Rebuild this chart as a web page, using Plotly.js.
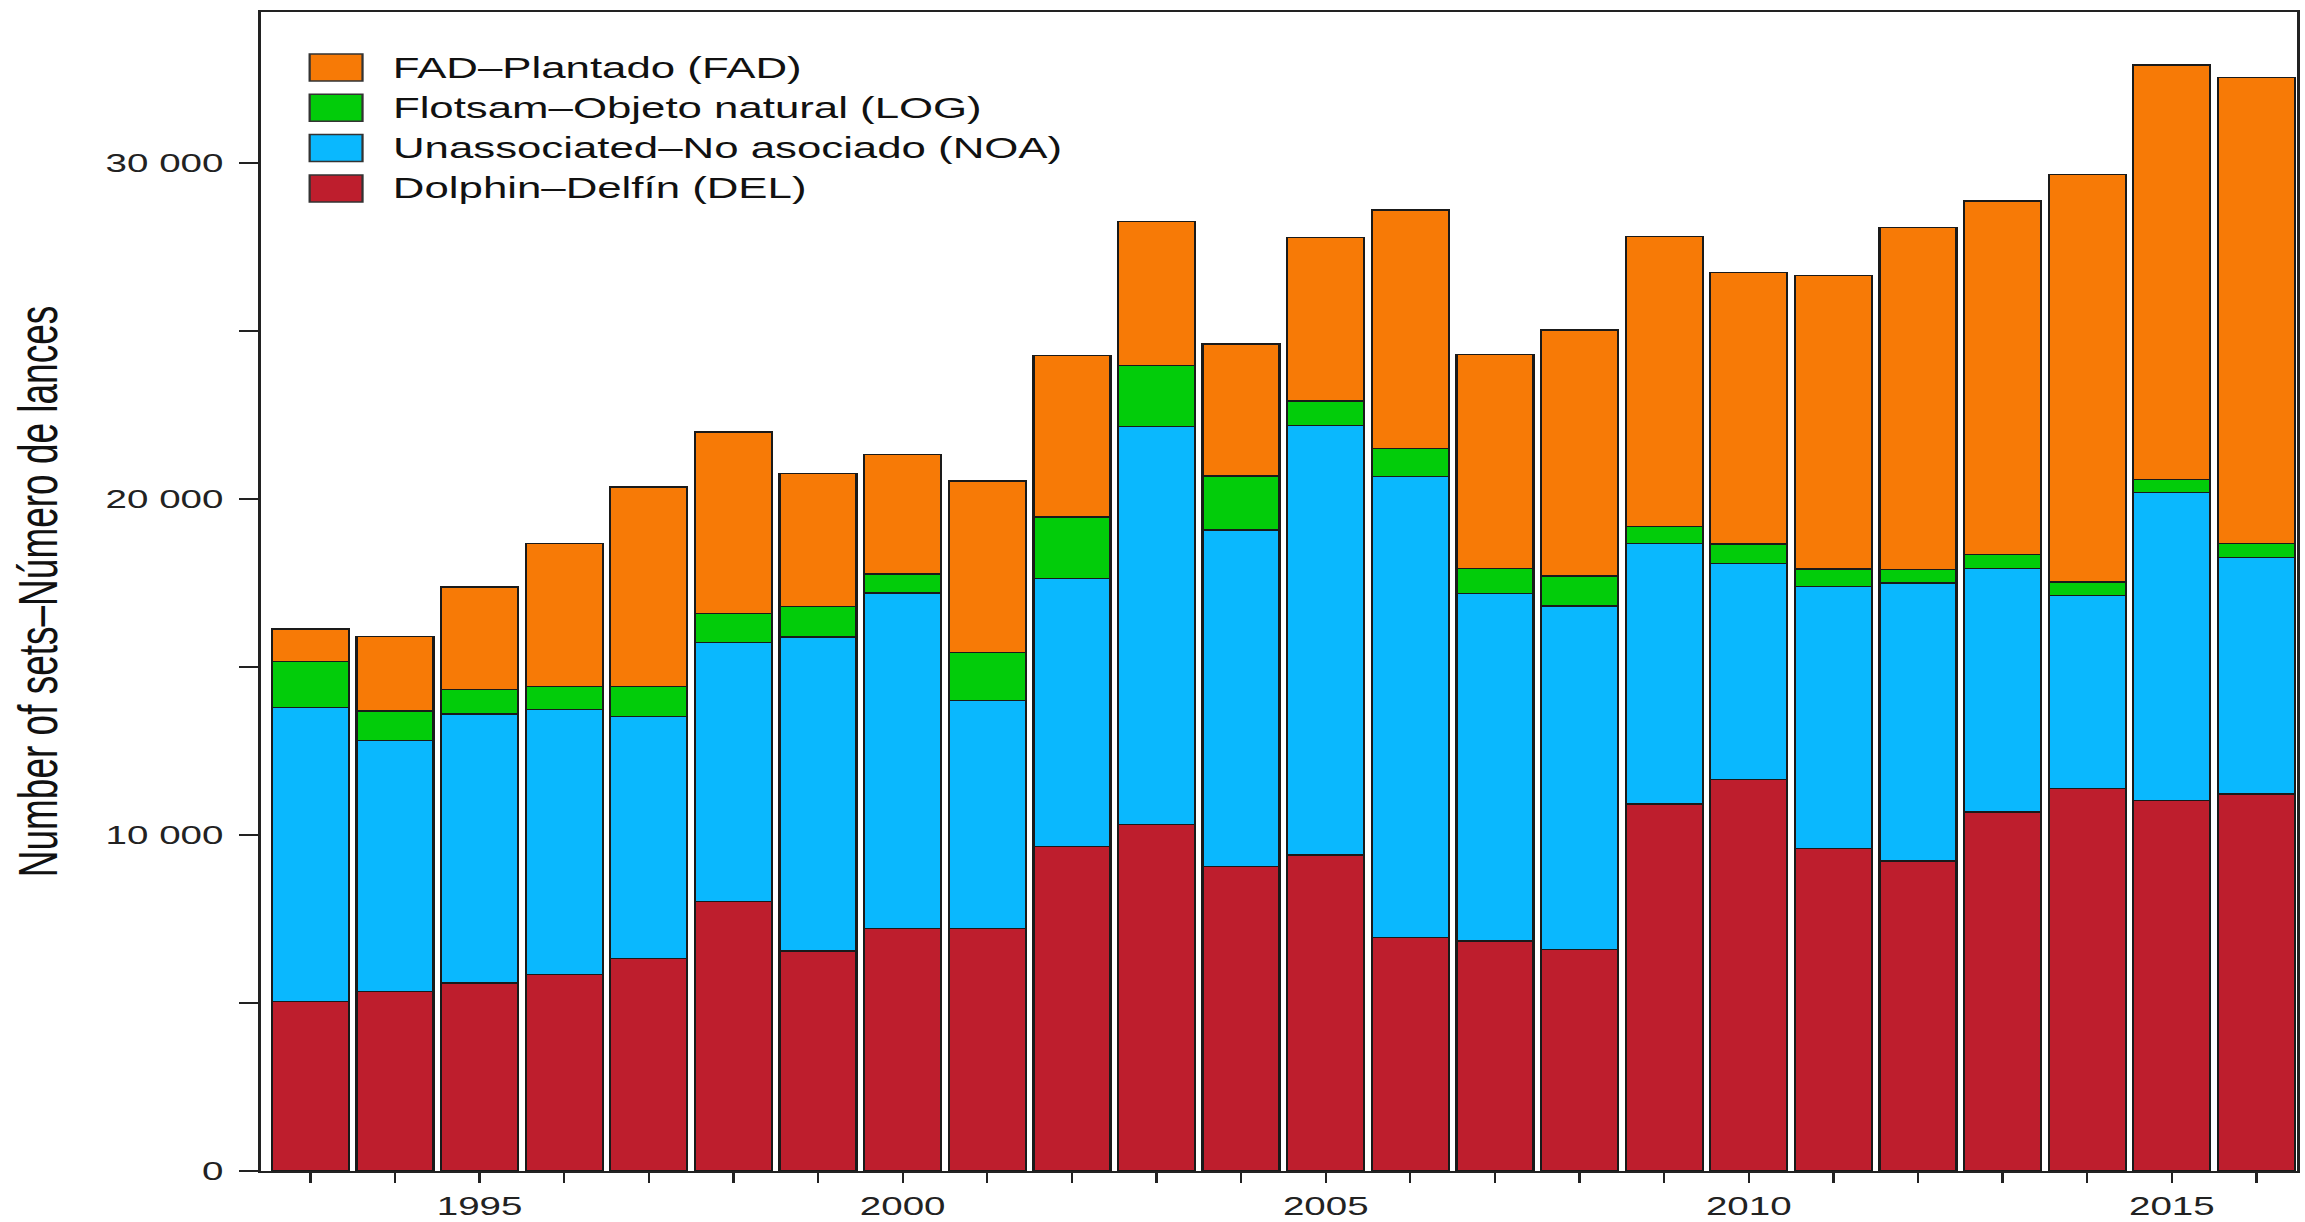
<!DOCTYPE html>
<html>
<head>
<meta charset="utf-8">
<script src="https://cdn.plot.ly/plotly-3.0.1.min.js"></script>
<style>
html, body { margin: 0; padding: 0; background: #ffffff; overflow: hidden; width: 2305px; height: 1222px; }
#chart { position: absolute; left: 0; top: 0; width: 1526px; height: 1222px; transform: scaleX(1.5105); transform-origin: 0 0; }
</style>
</head>
<body>
<div id="chart"></div>
<script>
// ---- Data ----
const years = [1993, 1994, 1995, 1996, 1997, 1998, 1999, 2000, 2001, 2002, 2003, 2004,
               2005, 2006, 2007, 2008, 2009, 2010, 2011, 2012, 2013, 2014, 2015, 2016];

const delSets = [5040, 5340, 5595, 5854, 6330, 8014, 6547, 7223, 7211, 9663, 10318, 9068,
                 9404, 6943, 6845, 6586, 10922, 11645, 9604, 9226, 10684, 11383, 11020, 11220];
const noaSets = [8750, 7470, 8005, 7874, 7202, 7708, 9345, 9978, 6797, 7976, 11833, 10008,
                 12776, 13719, 10336, 10228, 7746, 6428, 7797, 8273, 7240, 5750, 9178, 7044];
const logSets = [1370, 884, 724, 685, 881, 875, 913, 566, 1417, 1824, 1815, 1607,
                 735, 846, 755, 893, 518, 587, 515, 408, 429, 396, 387, 404];
const fadSets = [973, 2211, 3056, 4256, 5943, 5396, 3947, 3562, 5109, 4812, 4297, 3929,
                 4860, 7091, 6369, 7321, 8619, 8085, 8728, 10166, 10514, 12121, 12330, 13880];

const seriesNames = [
  "FAD\u2013Plantado (FAD)",
  "Flotsam\u2013Objeto natural (LOG)",
  "Unassociated\u2013No asociado (NOA)",
  "Dolphin\u2013Delf\u00edn (DEL)"
];
const seriesColors = ["#F77A06", "#02CC0A", "#0AB8FE", "#BE1E2D"];
const seriesValues = [fadSets, logSets, noaSets, delSets];

const yAxisTitle = "Number of sets\u2013N\u00famero de lances";

// ---- Build chart ----
const FONT = "Liberation Sans, Arial, Helvetica, sans-serif";
const outline = { color: "#1a1a1a", width: 1.5 };

// stack bottom-to-top: DEL, NOA, LOG, FAD
const traces = [];
for (let k = seriesValues.length - 1; k >= 0; k--) {
  traces.push({
    type: "bar",
    name: seriesNames[k],
    x: years,
    y: seriesValues[k],
    marker: { color: seriesColors[k], line: outline },
    showlegend: false,
    hoverinfo: "x+y+name"
  });
}

// Custom legend drawn as shapes + annotations (top-left of plot area)
const shapes = [];
const annotations = [];
const rowStep = 40.3;
for (let k = 0; k < seriesNames.length; k++) {
  const top = -42 - k * rowStep;
  shapes.push({
    type: "rect", xref: "paper", yref: "paper",
    xsizemode: "pixel", ysizemode: "pixel", xanchor: 0, yanchor: 1,
    x0: 32, x1: 67, y0: top, y1: top - 27,
    fillcolor: seriesColors[k], line: { color: "#333333", width: 1.5 }
  });
  annotations.push({
    xref: "paper", yref: "paper", x: 0, y: 1,
    xanchor: "left", yanchor: "middle",
    xshift: 85, yshift: top - 13.5,
    text: seriesNames[k], showarrow: false,
    font: { family: FONT, size: 29, color: "#111111" }
  });
}

const layout = {
  width: 1526, height: 1222,
  margin: { l: 173, r: 5, t: 12, b: 51, pad: 0 },
  paper_bgcolor: "#ffffff", plot_bgcolor: "#ffffff",
  barmode: "stack", bargap: 0.09,
  separators: ". ",
  showlegend: false,
  font: { family: FONT, color: "#222222" },
  xaxis: {
    range: [1992.42, 2016.485],
    tickmode: "linear", tick0: 1995, dtick: 5,
    ticks: "outside", ticklen: 10, tickwidth: 1.5, tickcolor: "#222222",
    minor: { tickmode: "linear", tick0: 1995, dtick: 1, ticks: "outside", ticklen: 10, tickwidth: 1.5, tickcolor: "#222222", showgrid: false },
    showgrid: false, zeroline: false,
    showline: true, linecolor: "#222222", linewidth: 2, mirror: true,
    ticklabelstandoff: 1,
    tickfont: { family: FONT, size: 25.5, color: "#222222" },
    automargin: false
  },
  yaxis: {
    range: [0, 34490],
    tickmode: "linear", tick0: 0, dtick: 10000, tickformat: ",d",
    ticks: "outside", ticklen: 13, tickwidth: 1.5, tickcolor: "#222222",
    minor: { tickmode: "linear", tick0: 0, dtick: 5000, ticks: "outside", ticklen: 13, tickwidth: 1.5, tickcolor: "#222222", showgrid: false },
    showgrid: false, zeroline: false,
    showline: true, linecolor: "#222222", linewidth: 2, mirror: true,
    ticklabelstandoff: 5,
    tickfont: { family: FONT, size: 25.5, color: "#222222" },
    title: { text: yAxisTitle, standoff: 20, font: { family: FONT, size: 37, color: "#111111" } },
    automargin: false
  },
  shapes: shapes,
  annotations: annotations
};

Plotly.newPlot("chart", traces, layout, { displayModeBar: false, staticPlot: true });
</script>
</body>
</html>
